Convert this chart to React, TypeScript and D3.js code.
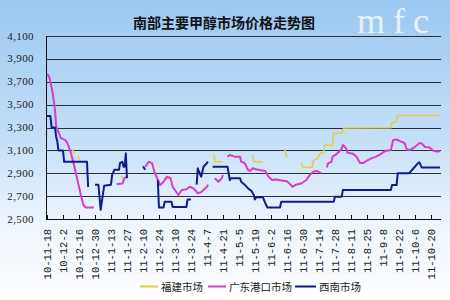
import React from "react";
import * as d3 from "d3";

const TITLE = "南部主要甲醇市场价格走势图";
const WATERMARK = "mfc";
const yTicks = [2500, 2700, 2900, 3100, 3300, 3500, 3700, 3900, 4100];
const xTickLabels = [
  "10-11-18", "10-12-2", "10-12-16", "10-12-30", "11-1-13", "11-1-27", "11-2-10",
  "11-2-24", "11-3-10", "11-3-24", "11-4-7", "11-4-21", "11-5-5", "11-5-19",
  "11-6-2", "11-6-16", "11-6-30", "11-7-14", "11-7-28", "11-8-11", "11-8-25",
  "11-9-8", "11-9-22", "11-10-6", "11-10-20",
];
const seriesNames = ["福建市场", "广东港口市场", "西南市场"];
const seriesColors = ["#e2cf45", "#d83ccb", "#111c8a"];
const xDomain = ["2010-11-18", "2011-10-28"];

type Pt = [string, number | null];

const fujian: Pt[] = [
  ["2010-12-10", 3110], ["2010-12-12", 3070], ["2010-12-13", null],
  ["2010-12-15", 3050], ["2010-12-17", 3010], ["2010-12-18", null],
  ["2011-01-22", 2880], ["2011-01-24", 2845], ["2011-01-25", null],
  ["2011-02-28", 2850], ["2011-03-06", 2850], ["2011-03-07", null],
  ["2011-04-01", 2913], ["2011-04-03", 2900], ["2011-04-04", null],
  ["2011-04-13", 3060], ["2011-04-14", 3000], ["2011-04-21", 3000], ["2011-04-22", null],
  ["2011-05-04", 3050], ["2011-05-07", 3045], ["2011-05-08", null],
  ["2011-05-17", 3060], ["2011-05-18", 3000], ["2011-05-26", 3000], ["2011-05-27", null],
  ["2011-06-14", 3110], ["2011-06-16", 3040], ["2011-06-17", null],
  ["2011-06-29", 2992], ["2011-06-30", 2950], ["2011-07-08", 2950], ["2011-07-09", 3010],
  ["2011-07-13", 3030], ["2011-07-15", 3075], ["2011-07-18", 3080], ["2011-07-19", 3147],
  ["2011-07-26", 3147], ["2011-07-27", 3250], ["2011-08-03", 3250], ["2011-08-04", 3275],
  ["2011-08-05", 3295], ["2011-09-15", 3298], ["2011-09-16", 3345], ["2011-09-20", 3350],
  ["2011-09-21", 3405], ["2011-10-28", 3405],
];

const guangdong: Pt[] = [
  ["2010-11-18", 3770], ["2010-11-20", 3740], ["2010-11-21", 3700], ["2010-11-23", 3600],
  ["2010-11-25", 3450], ["2010-11-26", 3310], ["2010-11-28", 3260], ["2010-11-30", 3210],
  ["2010-12-04", 3190], ["2010-12-06", 3160], ["2010-12-09", 3075], ["2010-12-12", 2957],
  ["2010-12-14", 2870], ["2010-12-16", 2782], ["2010-12-18", 2695], ["2010-12-20", 2620],
  ["2010-12-22", 2600], ["2010-12-29", 2600], ["2010-12-30", null],
  ["2011-01-18", 2806], ["2011-01-23", 2810], ["2011-01-25", 2860], ["2011-01-27", 2870],
  ["2011-01-28", null],
  ["2011-02-12", 2957], ["2011-02-15", 3001], ["2011-02-18", 2987], ["2011-02-20", 2913],
  ["2011-02-25", 2797], ["2011-02-28", 2826], ["2011-03-03", 2870], ["2011-03-06", 2860],
  ["2011-03-08", 2782], ["2011-03-13", 2710], ["2011-03-16", 2754], ["2011-03-20", 2760],
  ["2011-03-23", 2782], ["2011-03-26", 2770], ["2011-03-30", 2725], ["2011-04-02", 2735],
  ["2011-04-07", 2782], ["2011-04-08", 2800], ["2011-04-09", null],
  ["2011-04-14", 2856], ["2011-04-17", 2826], ["2011-04-20", 2856], ["2011-04-21", 2885],
  ["2011-04-22", null],
  ["2011-04-25", 3045], ["2011-04-27", 3060], ["2011-05-01", 3045], ["2011-05-06", 3045],
  ["2011-05-07", 3001], ["2011-05-10", 2990], ["2011-05-13", 2928], ["2011-05-15", 2920],
  ["2011-05-17", 2943], ["2011-05-20", 2935], ["2011-05-23", 2928], ["2011-05-28", 2920],
  ["2011-05-31", 2870], ["2011-06-03", 2841], ["2011-06-07", 2845], ["2011-06-10", 2838],
  ["2011-06-16", 2830], ["2011-06-18", 2812], ["2011-06-21", 2782], ["2011-06-24", 2800],
  ["2011-06-29", 2812], ["2011-07-03", 2841], ["2011-07-06", 2885], ["2011-07-09", 2913],
  ["2011-07-12", 2920], ["2011-07-15", 2905], ["2011-07-16", 2900], ["2011-07-17", null],
  ["2011-07-21", 2950], ["2011-07-22", 2987], ["2011-07-25", 3000], ["2011-07-26", 3045],
  ["2011-07-29", 3065], ["2011-08-01", 3090], ["2011-08-03", 3118], ["2011-08-04", 3147],
  ["2011-08-07", 3115], ["2011-08-08", 3080], ["2011-08-13", 3070], ["2011-08-16", 3045],
  ["2011-08-19", 2990], ["2011-08-22", 2990], ["2011-08-25", 3010], ["2011-08-29", 3030],
  ["2011-09-02", 3045], ["2011-09-05", 3060], ["2011-09-08", 3080], ["2011-09-10", 3095],
  ["2011-09-15", 3103], ["2011-09-17", 3190], ["2011-09-20", 3195], ["2011-09-23", 3180],
  ["2011-09-27", 3165], ["2011-09-29", 3105], ["2011-10-02", 3105], ["2011-10-06", 3130],
  ["2011-10-10", 3165], ["2011-10-12", 3160], ["2011-10-15", 3130], ["2011-10-19", 3125],
  ["2011-10-22", 3097], ["2011-10-26", 3090], ["2011-10-28", 3095],
];

const xinan: Pt[] = [
  ["2010-11-18", 3400], ["2010-11-21", 3400], ["2010-11-22", 3300], ["2010-11-25", 3300],
  ["2010-11-26", 3220], ["2010-11-27", 3180], ["2010-11-28", 3100], ["2010-12-02", 3100],
  ["2010-12-03", 3000], ["2010-12-23", 3000], ["2010-12-24", 2780], ["2010-12-25", null],
  ["2010-12-30", 2800], ["2011-01-02", 2800], ["2011-01-04", 2580], ["2011-01-07", 2790],
  ["2011-01-13", 2800], ["2011-01-14", 2885], ["2011-01-16", 2930], ["2011-01-20", 2930],
  ["2011-01-21", 2990], ["2011-01-23", 3000], ["2011-01-24", 2957], ["2011-01-25", 2957],
  ["2011-01-26", 3075], ["2011-01-27", 2856], ["2011-01-28", null],
  ["2011-02-10", 2960], ["2011-02-12", 2930], ["2011-02-13", null],
  ["2011-02-23", 2840], ["2011-02-24", 2600], ["2011-02-28", 2600], ["2011-03-01", 2650],
  ["2011-03-07", 2650], ["2011-03-08", 2605], ["2011-03-20", 2605], ["2011-03-21", 2670],
  ["2011-03-24", 2670], ["2011-03-25", null],
  ["2011-03-29", 2800], ["2011-03-30", 2943], ["2011-03-31", 2913], ["2011-04-02", 2870],
  ["2011-04-04", 2957], ["2011-04-07", 2990], ["2011-04-08", 3000], ["2011-04-09", null],
  ["2011-04-12", 2957], ["2011-04-25", 2957], ["2011-04-26", 2900], ["2011-04-27", 2840],
  ["2011-04-28", 2856], ["2011-05-06", 2856], ["2011-05-07", 2826], ["2011-05-10", 2800],
  ["2011-05-13", 2768], ["2011-05-16", 2745], ["2011-05-18", 2710], ["2011-05-19", 2670],
  ["2011-05-20", 2690], ["2011-05-26", 2690], ["2011-05-28", 2640], ["2011-05-30", 2600],
  ["2011-06-10", 2600], ["2011-06-11", 2650], ["2011-07-27", 2650], ["2011-07-28", 2695],
  ["2011-08-03", 2695], ["2011-08-04", 2754], ["2011-09-15", 2754], ["2011-09-16", 2797],
  ["2011-09-20", 2797], ["2011-09-21", 2900], ["2011-10-01", 2900], ["2011-10-09", 2990],
  ["2011-10-10", 2995], ["2011-10-12", 2951], ["2011-10-28", 2951],
];

const allSeries = [fujian, guangdong, xinan];

const W = 450;
const H = 300;
const M = { left: 47, right: 440, top: 36, bottom: 219 };

export default function App() {
  const parse = d3.timeParse("%Y-%m-%d");
  const parseTick = d3.timeParse("%y-%m-%d");
  const x = d3
    .scaleTime()
    .domain(xDomain.map((s) => parse(s) as Date))
    .range([M.left, M.right]);
  const y = d3.scaleLinear().domain([2500, 4100]).range([M.bottom, M.top]);
  const fmt = d3.format(",");

  const line = d3
    .line<Pt>()
    .defined((d) => d[1] !== null)
    .x((d) => x(parse(d[0]) as Date))
    .y((d) => y(d[1] as number));

  const legendItems = [
    { x1: 140, x2: 158, tx: 161 },
    { x1: 208, x2: 226, tx: 229 },
    { x1: 295, x2: 316, tx: 319 },
  ];

  return (
    <svg
      width={W}
      height={H}
      style={{ position: "absolute", left: 0, top: 0, display: "block" }}
    >
      <defs>
        <linearGradient id="bg" x1="0" y1="0" x2="0" y2="1">
          <stop offset="0%" stopColor="#9ac8f1" />
          <stop offset="45%" stopColor="#c3def7" />
          <stop offset="75%" stopColor="#eef5fd" />
          <stop offset="100%" stopColor="#ffffff" />
        </linearGradient>
      </defs>
      <rect x={0} y={0} width={W} height={H} fill="url(#bg)" />

      <text
        x={224}
        y={28}
        textAnchor="middle"
        fontFamily="'Noto Sans CJK SC', sans-serif"
        fontWeight={700}
        fontSize={14}
        fill="#111"
      >
        {TITLE}
      </text>
      <text
        x={357}
        y={32.5}
        fontFamily="'Liberation Serif', serif"
        fontSize={36}
        letterSpacing={8}
        fill="#ffffff"
        fillOpacity={0.75}
      >
        {WATERMARK}
      </text>

      {/* gridlines */}
      {yTicks.map((t) => (
        <line
          key={t}
          x1={M.left}
          x2={M.right + 1}
          y1={Math.round(y(t)) + 0.5}
          y2={Math.round(y(t)) + 0.5}
          stroke="#2b2f38"
          strokeWidth={1}
        />
      ))}
      {/* y labels */}
      {yTicks.map((t) => (
        <text
          key={"l" + t}
          x={34}
          y={y(t) + 3.5}
          textAnchor="end"
          fontFamily="'Liberation Serif', serif"
          fontSize={11}
          letterSpacing={0.4}
          fill="#222"
        >
          {fmt(t)}
        </text>
      ))}

      {/* axes */}
      <line x1={M.left - 0.5} x2={M.left - 0.5} y1={M.top} y2={M.bottom + 1} stroke="#111" />
      <line x1={M.left} x2={M.right + 1} y1={M.bottom + 0.5} y2={M.bottom + 0.5} stroke="#111" />
      {xTickLabels.map((lab) => {
        const xx = Math.round(x(parseTick(lab) as Date)) + 0.5;
        return (
          <g key={lab}>
            <line x1={xx} x2={xx} y1={M.bottom - 4} y2={M.bottom + 1} stroke="#111" />
            <text
              transform={`translate(${xx + 3.5},${M.bottom + 10}) rotate(-90)`}
              textAnchor="end"
              fontFamily="'Liberation Mono', monospace"
              fontSize={10.5}
              fill="#222"
            >
              {lab}
            </text>
          </g>
        );
      })}

      {/* series */}
      {allSeries.map((s, i) => (
        <path
          key={i}
          d={line(s) || ""}
          fill="none"
          stroke={seriesColors[i]}
          strokeWidth={i === 0 ? 1.6 : 2}
          strokeLinejoin="round"
        />
      ))}

      {/* legend */}
      {legendItems.map((it, i) => (
        <g key={i}>
          <line x1={it.x1} x2={it.x2} y1={286.5} y2={286.5} stroke={seriesColors[i]} strokeWidth={2} />
          <text
            x={it.tx}
            y={290.5}
            fontFamily="'Noto Sans CJK SC', sans-serif"
            fontSize={10.5}
            fill="#222"
          >
            {seriesNames[i]}
          </text>
        </g>
      ))}
    </svg>
  );
}
